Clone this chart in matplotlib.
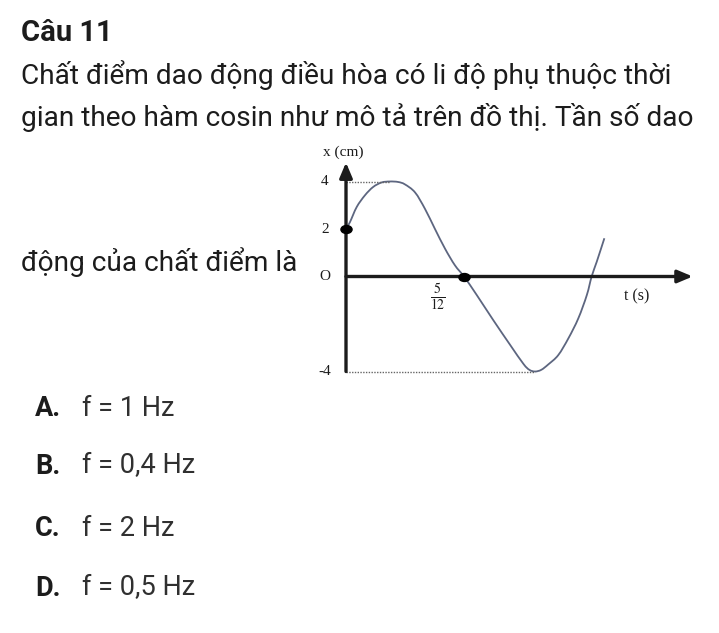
import matplotlib
matplotlib.use("Agg")
import matplotlib.pyplot as plt
from matplotlib.path import Path
from matplotlib.patches import PathPatch
from matplotlib.transforms import Affine2D

W, H = 719, 633

# curve: t in s, x in cm
t_pts = [0.0, 0.014, 0.038, 0.067, 0.096, 0.126, 0.155, 0.184, 0.208, 0.244, 0.279, 0.314,
         0.350, 0.385, 0.417, 0.462, 0.52, 0.58, 0.627, 0.648, 0.668, 0.69, 0.715, 0.750,
         0.786, 0.821, 0.851, 0.868, 0.886, 0.913]
x_pts = [2.0, 2.29, 2.93, 3.42, 3.77, 3.96, 4.0, 3.98, 3.88, 3.54, 2.85, 2.01,
         1.17, 0.47, 0.0, -0.78, -1.83, -2.88, -3.68, -3.93, -4.0, -3.93, -3.7, -3.31,
         -2.6, -1.76, -0.78, 0.0, 0.62, 1.61]

# marked points and guide lines
dot_t = [0.0, 5 / 12]
dot_x = [2.0, 0.0]
peak_t, peak_x = 0.155, 4.0
trough_t, trough_x = 0.668, -4.0
y_labels = ["4", "2", "O", "-4"]
y_label_vals = [4, 2, 0, -4]

title = "Câu 11"
question = ["Chất điểm dao động điều hòa có li độ phụ thuộc thời",
            "gian theo hàm cosin như mô tả trên đồ thị. Tần số dao",
            "động của chất điểm là"]
letters = ["A.", "B.", "C.", "D."]
answers = ["f = 1 Hz", "f = 0,4 Hz", "f = 2 Hz", "f = 0,5 Hz"]

ink = "#1c1c1c"
sans = ["Roboto", "DejaVu Sans"]
serif = ["Liberation Serif", "DejaVu Serif"]


def smooth_path(xs, ys):
    # catmull-rom through the read points, drawn as cubic bezier segments
    verts = [(xs[0], ys[0])]
    codes = [Path.MOVETO]
    n = len(xs)
    for i in range(n - 1):
        p0 = (xs[max(i - 1, 0)], ys[max(i - 1, 0)])
        p1 = (xs[i], ys[i])
        p2 = (xs[i + 1], ys[i + 1])
        p3 = (xs[min(i + 2, n - 1)], ys[min(i + 2, n - 1)])
        c1 = (p1[0] + (p2[0] - p0[0]) / 6, p1[1] + (p2[1] - p0[1]) / 6)
        c2 = (p2[0] - (p3[0] - p1[0]) / 6, p2[1] - (p3[1] - p1[1]) / 6)
        verts += [c1, c2, p2]
        codes += [Path.CURVE4] * 3
    return Path(verts, codes)


fig = plt.figure(figsize=(W / 100, H / 100), dpi=100)
fig.patch.set_facecolor("white")


def ftext(x, y, s, **kw):
    # position in picture pixels (top-left origin)
    return fig.text(x / W, 1 - y / H, s, va="center", ha="left", **kw)


ftext(21, 33, title, fontsize=21, fontweight="bold", family=sans, color=ink)
ftext(21, 75, question[0], fontsize=20.2, family=sans, color=ink)
ftext(21, 117, question[1], fontsize=20.2, family=sans, color=ink)
ftext(21, 262, question[2], fontsize=20.2, family=sans, color=ink)

opt_y = [409, 466, 528, 588]
for yy, lt, ans in zip(opt_y, letters, answers):
    ftext(35, yy, lt, fontsize=19.5, fontweight="bold", family=sans, color=ink)
    ftext(82, yy, ans, fontsize=19.5, family=sans, color="#303030")

# graph area, mapped so that 1 s = 283 px and 1 cm = 23.75 px
x0, y0, x1, y1 = 300, 140, 700, 380
ax = fig.add_axes([x0 / W, 1 - y1 / H, (x1 - x0) / W, (y1 - y0) / H])
ax.set_xlim((x0 - 346) / 283, (x1 - 346) / 283)
ax.set_ylim((276.5 - y1) / 23.75, (276.5 - y0) / 23.75)
ax.axis("off")

# axes with arrows
arrow = dict(arrowstyle="-|>,head_length=0.9,head_width=0.38", lw=2.4, color=ink,
             shrinkA=0, shrinkB=0)
ax.annotate("", xy=(1.225, 0), xytext=(0, 0), arrowprops=arrow)
ax.annotate("", xy=(0, 4.8), xytext=(0, -4.0), arrowprops=arrow)

# dotted guides
ax.plot([0, peak_t], [peak_x, peak_x], ls=(0, (1, 1)), lw=1, color="#666666")
ax.plot([0, trough_t], [trough_x, trough_x], ls=(0, (1, 1)), lw=1, color="#666666")

ax.add_patch(PathPatch(smooth_path(t_pts, x_pts), fill=False, edgecolor="#5d6680", lw=1.3))

oval = Path.unit_circle().transformed(Affine2D().scale(1.4, 1.0))
ax.plot(dot_t, dot_x, ls="none", marker=oval, ms=8, color="black", zorder=5)

for lab, v in zip(y_labels, y_label_vals):
    ax.text(-0.075, v, lab, ha="center", va="center", fontsize=11, family=serif, color=ink)
ax.text(-0.01, 5.25, "x (cm)", ha="center", va="center", fontsize=11, family=serif, color=ink)
ax.text(1.028, -0.85, "t (s)", ha="center", va="center", fontsize=11.5, family=serif, color=ink)
ax.text(0.325, -0.85, r"$\frac{5}{12}$", ha="center", va="center", fontsize=14,
        family=serif, color=ink, math_fontfamily="stix")

fig.savefig("out.png", dpi=100, facecolor="white")
